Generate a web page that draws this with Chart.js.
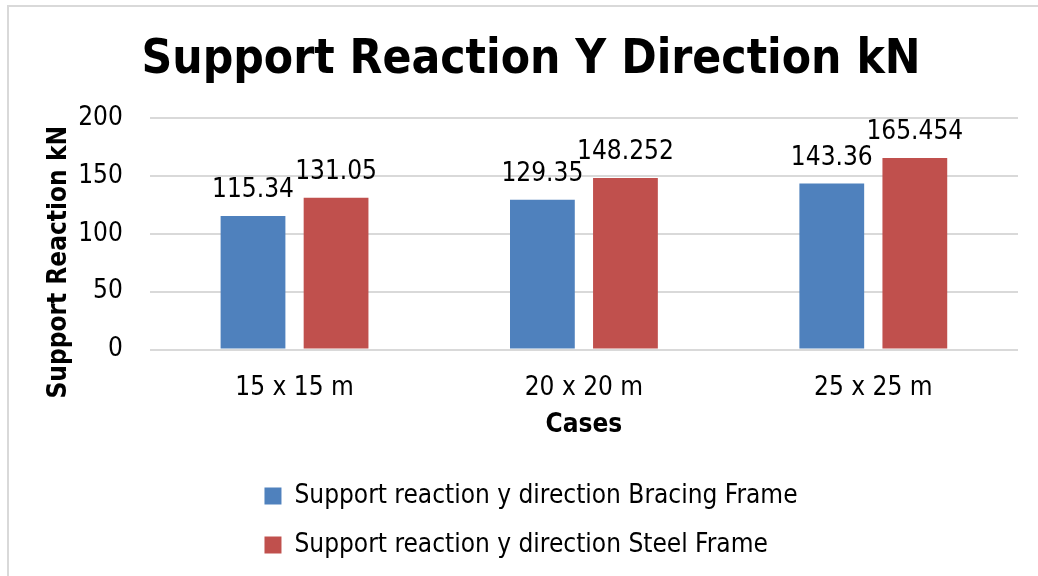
<!DOCTYPE html>
<html>
<head>
<meta charset="utf-8">
<script src="https://cdn.jsdelivr.net/npm/chart.js@4.4.1/dist/chart.umd.min.js"></script>
<style>
  html, body { margin: 0; padding: 0; background: #fff; overflow: hidden; }
  #frame { position: absolute; left: 7px; top: 5px; width: 1100px; height: 700px;
           border-top: 2px solid #d9d9d9; border-left: 2px solid #d9d9d9; }
  #wrap { position: absolute; left: 0; top: 0; width: 1038px; height: 568px; }
</style>
</head>
<body>
<div id="frame"></div>
<div id="wrap"><canvas id="chart"></canvas></div>
<script>
const categories = ["15 x 15 m", "20 x 20 m", "25 x 25 m"];
const bracingFrame = [115.34, 129.35, 143.36];
const steelFrame = [131.05, 148.252, 165.454];
const seriesNames = ["Support reaction y direction Bracing Frame", "Support reaction y direction Steel Frame"];
const yTicks = [0, 50, 100, 150, 200];
const chartTitle = "Support Reaction Y Direction kN";
const yTitle = "Support Reaction kN";
const xTitle = "Cases";

const FONT = "'DejaVu Sans Condensed', 'DejaVu Sans', sans-serif";
const BLUE = "#4F81BD";
const RED = "#C0504D";
const GRID = "#d9d9d9";

// value labels above each bar
const valueLabels = {
    id: "valueLabels",
    afterDatasetsDraw(chart) {
        const ctx = chart.ctx;
        ctx.save();
        ctx.font = "26px " + FONT;
        ctx.fillStyle = "#000";
        ctx.textAlign = "center";
        ctx.textBaseline = "alphabetic";
        chart.data.datasets.forEach((ds, i) => {
            chart.getDatasetMeta(i).data.forEach((bar, j) => {
                ctx.fillText(String(ds.data[j]), bar.x, bar.y - 19);
            });
        });
        ctx.restore();
    }
};

const ctx = document.getElementById("chart");
new Chart(ctx, {
    type: "bar",
    data: {
        labels: categories,
        datasets: [
            { label: seriesNames[0], data: bracingFrame, backgroundColor: BLUE,
              categoryPercentage: 0.574, barPercentage: 0.78 },
            { label: seriesNames[1], data: steelFrame, backgroundColor: RED,
              categoryPercentage: 0.574, barPercentage: 0.78 }
        ]
    },
    options: {
        responsive: true,
        maintainAspectRatio: false,
        animation: false,
        layout: { padding: { left: 44, right: 20, top: 0, bottom: 0 } },
        plugins: {
            title: {
                display: true,
                text: chartTitle,
                color: "#000",
                font: { family: FONT, size: 47.5, weight: "bold" },
                padding: { top: 32, bottom: 29 }
            },
            legend: {
                position: "bottom",
                labels: {
                    color: "#000",
                    font: { family: FONT, size: 26 },
                    boxWidth: 17,
                    boxHeight: 17,
                    padding: 23,
                    generateLabels(chart) {
                        const items = Chart.defaults.plugins.legend.labels.generateLabels(chart);
                        const c = chart.ctx;
                        c.save();
                        c.font = "26px " + FONT;
                        const widest = Math.max(...items.map(it => c.measureText(it.text).width));
                        items.forEach(it => {
                            while (c.measureText(it.text + " ").width <= widest + 2) it.text += " ";
                        });
                        c.restore();
                        return items;
                    }
                }
            },
            tooltip: { enabled: false }
        },
        scales: {
            x: {
                grid: { display: true, drawOnChartArea: false, tickLength: 20, tickColor: "transparent" },
                border: { display: false },
                ticks: { color: "#000", font: { family: FONT, size: 26 }, padding: 3 },
                title: {
                    display: true, text: xTitle, color: "#000",
                    font: { family: FONT, size: 26, weight: "bold" },
                    padding: { top: 3, bottom: 19 }
                }
            },
            y: {
                min: 0,
                max: 200,
                grid: { color: GRID, lineWidth: 2, tickLength: 24, tickColor: "transparent" },
                border: { display: false },
                afterBuildTicks(axis) { axis.ticks = yTicks.map(v => ({ value: v })); },
                ticks: { color: "#000", font: { family: FONT, size: 26 }, padding: 3 },
                title: {
                    display: true, text: yTitle + "       ", color: "#000",
                    font: { family: FONT, size: 26, weight: "bold" },
                    padding: 0
                }
            }
        }
    },
    plugins: [valueLabels]
});
</script>
</body>
</html>
